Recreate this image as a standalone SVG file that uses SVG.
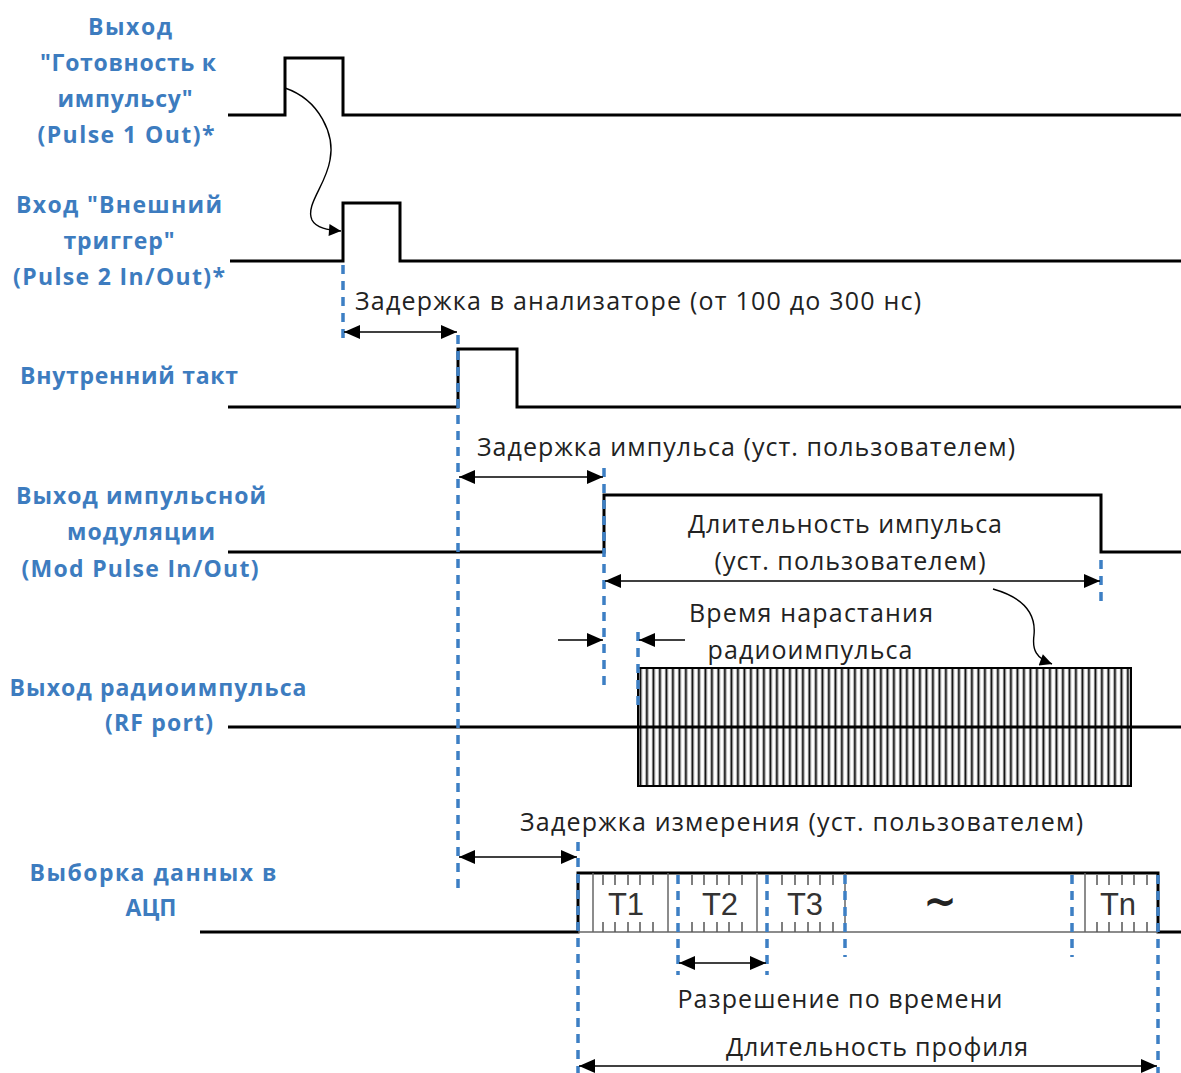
<svg xmlns="http://www.w3.org/2000/svg" width="1181" height="1073" viewBox="0 0 1181 1073">
<defs>
<style>
.lbl{font-family:"Open Sans","DejaVu Sans",sans-serif;font-weight:bold;font-size:23px;fill:#3d7cbf;text-anchor:middle}
.txt{font-family:"Open Sans","DejaVu Sans",sans-serif;font-size:25px;fill:#222}
.mid{text-anchor:middle}
.tl{font-family:"Liberation Sans",Arial,sans-serif;font-size:31px;fill:#333;text-anchor:middle}
.tilde{font-family:"DejaVu Sans",sans-serif;font-size:40px;font-weight:bold;fill:#222;text-anchor:middle}
.sig{fill:none;stroke:#000;stroke-width:3}
.dash{fill:none;stroke:#3d7fc4;stroke-width:3.5;stroke-dasharray:9 7}
.arr{fill:none;stroke:#000;stroke-width:1.6}
.curve{fill:none;stroke:#000;stroke-width:1.4}
.grid{stroke:#666;stroke-width:1.5}
.tick{stroke:#555;stroke-width:1.5}
</style>
<marker id="ah" viewBox="0 0 10 10" refX="10" refY="5" markerWidth="14" markerHeight="12" markerUnits="userSpaceOnUse" orient="auto-start-reverse">
<path d="M0,0 L10,5 L0,10 z" fill="#000"/>
</marker>
<marker id="ab" viewBox="0 0 16 14" refX="16" refY="7" markerWidth="18" markerHeight="14" markerUnits="userSpaceOnUse" orient="auto-start-reverse">
<path d="M0,0 L16,7 L0,14 z" fill="#000"/>
</marker>
<pattern id="hatch" patternUnits="userSpaceOnUse" x="638" y="0" width="6.5" height="10">
<rect width="6.5" height="10" fill="#fff"/>
<rect x="0.8" width="0.8" height="10" fill="#aaa"/>
<rect x="1.6" width="1.8" height="10" fill="#000"/>
<rect x="3.4" width="0.8" height="10" fill="#aaa"/>
</pattern>
</defs>
<rect width="1181" height="1073" fill="#fff"/>

<g id="label-pulse1">
<text class="lbl" x="130" y="35" textLength="84">Выход</text>
<text class="lbl" x="128" y="71" textLength="176">"Готовность к</text>
<text class="lbl" x="125" y="107" textLength="135">импульсу"</text>
<text class="lbl" x="126" y="143" textLength="177">(Pulse 1 Out)*</text>
</g>
<g id="label-pulse2">
<text class="lbl" x="119" y="213" textLength="206">Вход "Внешний</text>
<text class="lbl" x="119" y="249" textLength="111">триггер"</text>
<text class="lbl" x="119" y="285" textLength="212">(Pulse 2 In/Out)*</text>
</g>
<g id="label-internal">
<text class="lbl" x="129" y="384" textLength="218">Внутренний такт</text>
</g>
<g id="label-mod">
<text class="lbl" x="141" y="504" textLength="250">Выход импульсной</text>
<text class="lbl" x="141" y="540" textLength="148">модуляции</text>
<text class="lbl" x="140" y="577" textLength="237">(Mod Pulse In/Out)</text>
</g>
<g id="label-rf">
<text class="lbl" x="158" y="696" textLength="297">Выход радиоимпульса</text>
<text class="lbl" x="159" y="731" textLength="108">(RF port)</text>
</g>
<g id="label-adc">
<text class="lbl" x="153" y="881" textLength="247">Выборка данных в</text>
<text class="lbl" x="151" y="916">АЦП</text>
</g>

<g id="signal-pulse1">
<path class="sig" d="M228,115 H285 V58 H343 V115 H1181"/>
</g>
<g id="signal-pulse2">
<path class="sig" d="M230,261 H343 V203 H400 V261 H1181"/>
</g>
<g id="signal-internal">
<path class="sig" d="M228,407 H458 V349 H517 V407 H1181"/>
</g>
<g id="signal-mod">
<path class="sig" d="M228,552 H604 V495 H1101 V552 H1181"/>
</g>
<g id="signal-rf">
<rect x="638" y="668" width="493" height="118" fill="url(#hatch)" stroke="#000" stroke-width="2"/>
<path class="sig" d="M228,727 H1181"/>
</g>
<g id="signal-adc">
<path class="sig" d="M200,932 H578 V873 H1158 V932 H1181"/>
<path class="grid" d="M578,932 H1158"/>
<g class="grid">
<line x1="593" y1="873" x2="593" y2="932"/>
<line x1="668" y1="873" x2="668" y2="932"/>
<line x1="757" y1="873" x2="757" y2="932"/>
<line x1="845" y1="873" x2="845" y2="932"/>
<line x1="1085" y1="873" x2="1085" y2="932"/>
</g>
<path class="tick" d="M603,875v10M615,875v10M628,875v10M640,875v10M653,875v10M603,932v-10M615,932v-10M628,932v-10M640,932v-10M653,932v-10
M692,875v10M704,875v10M717,875v10M729,875v10M742,875v10M692,932v-10M704,932v-10M717,932v-10M729,932v-10M742,932v-10
M782,875v10M795,875v10M808,875v10M820,875v10M833,875v10M782,932v-10M795,932v-10M808,932v-10M820,932v-10M833,932v-10
M1097,875v10M1109,875v10M1122,875v10M1134,875v10M1147,875v10M1097,932v-10M1109,932v-10M1122,932v-10M1134,932v-10M1147,932v-10"/>
<text class="tl" x="626" y="915">T1</text>
<text class="tl" x="720" y="915">T2</text>
<text class="tl" x="805" y="915">T3</text>
<text class="tilde" x="940" y="915">~</text>
<text class="tl" x="1118" y="915">Tn</text>
</g>

<g id="connectors">
<path class="dash" d="M343,265 V340"/>
<path class="dash" d="M458,335 V890"/>
<path class="dash" d="M604,468 V690"/>
<path class="dash" d="M1101,560 V606"/>
<path class="dash" d="M638,632 V708"/>
<path class="dash" d="M578,842 V1073"/>
<path class="dash" d="M678,875 V975"/>
<path class="dash" d="M767,875 V975"/>
<path class="dash" d="M845,875 V957"/>
<path class="dash" d="M1072,875 V957"/>
<path class="dash" d="M1158,875 V1073"/>

<path class="curve" d="M285,88 C320,100 335,135 330,160 C326,185 305,205 312,220 C316,228 328,230 341,231" marker-end="url(#ah)"/>
<path class="curve" d="M993,589 C1025,598 1036,615 1034,635 C1032,650 1036,658 1052,664" marker-end="url(#ah)"/>

<path class="arr" d="M344,332 H457" marker-start="url(#ab)" marker-end="url(#ab)"/>
<path class="arr" d="M459,477 H603" marker-start="url(#ab)" marker-end="url(#ab)"/>
<path class="arr" d="M605,581 H1100" marker-start="url(#ab)" marker-end="url(#ab)"/>
<path class="arr" d="M558,640 H603" marker-end="url(#ab)"/>
<path class="arr" d="M685,640 H639" marker-end="url(#ab)"/>
<path class="arr" d="M459,857 H577" marker-start="url(#ab)" marker-end="url(#ab)"/>
<path class="arr" d="M679,963 H766" marker-start="url(#ab)" marker-end="url(#ab)"/>
<path class="arr" d="M579,1066 H1157" marker-start="url(#ab)" marker-end="url(#ab)"/>
</g>

<g id="annotations">
<text class="txt" x="355" y="310" textLength="566">Задержка в анализаторе (от 100 до 300 нс)</text>
<text class="txt" x="477" y="456" textLength="538">Задержка импульса (уст. пользователем)</text>
<text class="txt mid" x="845" y="533" textLength="314">Длительность импульса</text>
<text class="txt mid" x="850" y="570" textLength="271">(уст. пользователем)</text>
<text class="txt mid" x="811" y="622" textLength="244">Время нарастания</text>
<text class="txt mid" x="810" y="659" textLength="205">радиоимпульса</text>
<text class="txt" x="520" y="831" textLength="563">Задержка измерения (уст. пользователем)</text>
<text class="txt mid" x="840" y="1008" textLength="325">Разрешение по времени</text>
<text class="txt mid" x="877" y="1056" textLength="302">Длительность профиля</text>
</g>
</svg>
